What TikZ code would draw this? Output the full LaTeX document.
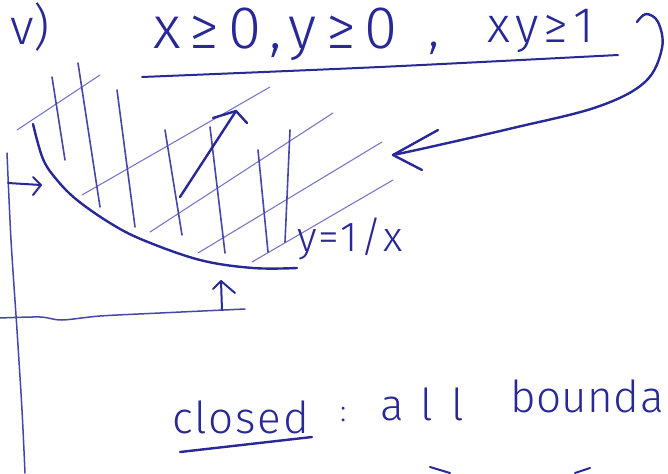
\documentclass[tikz,border=0pt]{standalone}
\usepackage{fontspec}
\setmainfont{Fira Sans Light}
\usepackage{graphicx}
\definecolor{ink}{RGB}{40,40,150}
\definecolor{inkmid}{RGB}{70,70,170}
\definecolor{inklight}{RGB}{120,120,200}
\begin{document}
\begin{tikzpicture}[x=1pt,y=-1pt,
  pen/.style={draw=ink, line width=2.4pt, line cap=round, line join=round},
  axisline/.style={draw=inkmid, line width=1.5pt, line cap=round},
  vhatch/.style={draw=inkmid, line width=1.6pt, line cap=round},
  dhatch/.style={draw=inklight, line width=1.1pt, line cap=round},
  hw/.style={text=ink, inner sep=0pt, anchor=base west},
]
\useasboundingbox (0,0) rectangle (668,473);

% axes
\draw[axisline] plot[smooth] coordinates {(7,153) (11,240) (17,330) (22,410) (25,473)};
\draw[axisline] plot[smooth] coordinates {(0,318) (40,317) (62,320) (100,316) (160,313) (245,309)};

% diagonal hatching
\draw[dhatch] (17,130) -- (100,75);
\draw[dhatch] (82,195) -- (270,87);
\draw[dhatch] (150,232) -- (333,113);
\draw[dhatch] (198,253) -- (382,142);
\draw[dhatch] (252,262) -- (393,180);

% vertical hatching
\draw[vhatch] (52,77) -- (65,160);
\draw[vhatch] (78,63) -- (100,207);
\draw[vhatch] (117,90) -- (135,227);
\draw[vhatch] (165,130) -- (182,235);
\draw[vhatch] (210,127) -- (225,253);
\draw[vhatch] (258,150) -- (268,252);
\draw[vhatch] (290,130) -- (285,242);

% hyperbola y = 1/x
\draw[pen] plot[smooth, tension=0.6] coordinates {(33,124) (43,159) (57,180) (77,200) (110,223) (143,240) (200,260) (253,268) (297,268)};

% diagonal arrow inside the region
\coordinate (dA) at (180,197);
\coordinate (dB) at (236,111);
\draw[pen] (dA) -- (dB);
\draw[pen] (213,118) -- (dB) -- (247,123);

% small arrow from the vertical axis
\coordinate (lA) at (8,183);
\coordinate (lB) at (41,185);
\draw[pen, line width=2pt] (lA) -- (lB);
\draw[pen, line width=2pt] (33,177) -- (lB) -- (33,195);

% small arrow up from the horizontal axis
\coordinate (uA) at (222,310);
\coordinate (uB) at (221,281);
\draw[pen, line width=2pt] (uA) -- (uB);
\draw[pen, line width=2pt] (213,289) -- (uB) -- (235,293);

% title
\node[hw] (num) at (10,45) {\fontsize{50}{60}\selectfont v)};
\node[hw] (t1) at (153,49) {\fontsize{60}{70}\selectfont\addfontfeature{LetterSpace=15}x≥0,y≥0};
\node[hw] (t2) at (428,47) {\fontsize{54}{64}\selectfont ,};
\node[hw] (t3) at (487,43) {\fontsize{50}{60}\selectfont\addfontfeature{LetterSpace=10}xy≥1};
\coordinate (ulA) at (142,77);
\coordinate (ulB) at (618,55);
\draw[pen, line width=2pt] plot[smooth] coordinates {(ulA) (380,67) (ulB)};

% curved arrow from the title to the region
\coordinate (cA) at (637,22);
\coordinate (cB) at (393,155);
\draw[pen] plot[smooth, tension=0.6] coordinates {(cA) (646,14) (658,22) (662,48) (645,82) (597,107) (513,128) (430,147) (cB)};
\draw[pen] (438,130) -- (cB) -- (422,170);

% label of the curve
\node[hw] (lab) at (297,251) {\fontsize{42}{50}\selectfont\addfontfeature{LetterSpace=5}y=1/x};

% bottom text
\node[hw] (closed) at (172,433) {\fontsize{44}{52}\selectfont\addfontfeature{LetterSpace=4}closed};
\coordinate (cuA) at (180,452);
\coordinate (cuB) at (312,437);
\draw[pen] (cuA) -- (cuB);
\node[hw] (colon) at (340,421) {\fontsize{30}{36}\selectfont :};
\node[hw] (all) at (380,420) {\fontsize{44}{52}\selectfont\addfontfeature{LetterSpace=40}all};
\node[hw] (bnd) at (510,412) {\fontsize{44}{52}\selectfont\addfontfeature{LetterSpace=1}bounda};

% strokes cut off at the bottom edge
\draw[pen, line width=2pt] (430,467) -- (450,473);
\draw[pen, line width=2pt] (590,468) -- (575,473);
\end{tikzpicture}
\end{document}
